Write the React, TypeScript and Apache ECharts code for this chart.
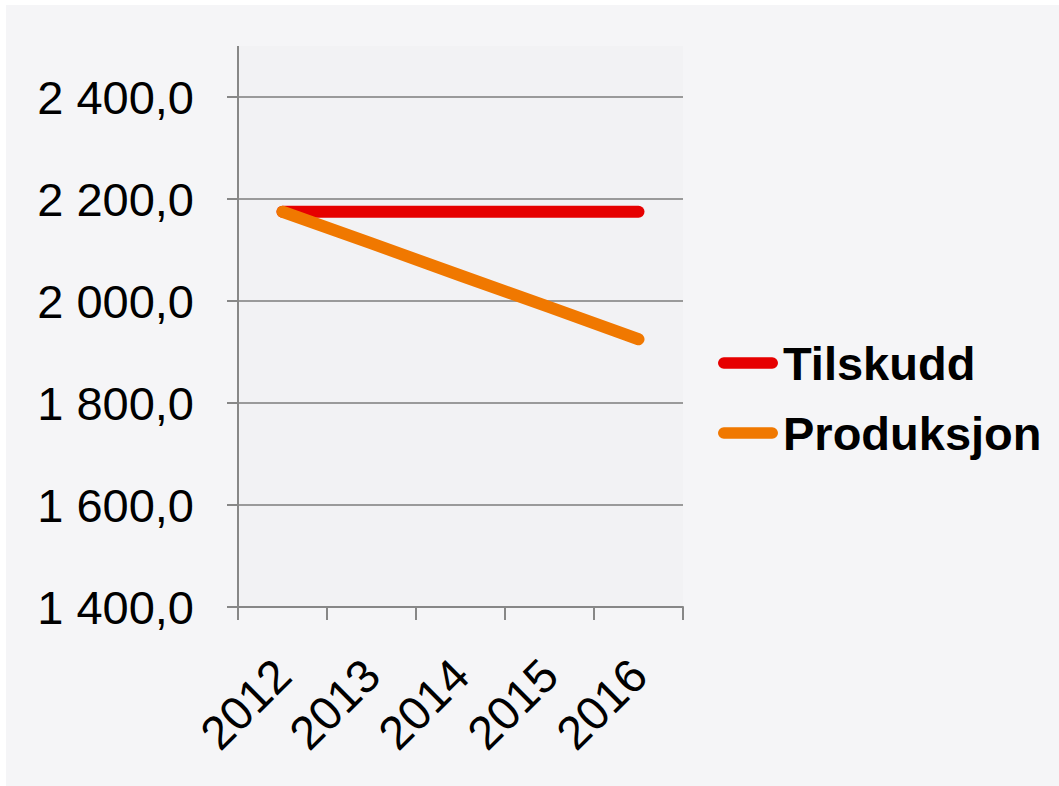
import React, { useEffect, useRef } from "react";
import * as echarts from "echarts";

const categories = ["2012", "2013", "2014", "2015", "2016"];
const tilskudd = [2175, 2175, 2175, 2175, 2175];
const produksjon = [2175, 2113, 2050, 1988, 1925];
const seriesNames = ["Tilskudd", "Produksjon"];
const yMin = 1400;
const yMax = 2400;
const yStep = 200;

const FONT = "'Liberation Sans', Arial, Helvetica, sans-serif";

function fmt(v: number): string {
  const fixed = v.toFixed(1);
  const [intPart, dec] = fixed.split(".");
  const withSpace = intPart.replace(/\B(?=(\d{3})+(?!\d))/g, " ");
  return withSpace + "," + dec;
}

export default function App() {
  const ref = useRef<HTMLDivElement>(null);
  useEffect(() => {
    document.body.style.margin = "0";
    if (!ref.current) return;
    const chart = echarts.init(ref.current, undefined, { renderer: "svg" });
    const gl = 232, gt = 92, gr = 376, gb = 179;
    const W = 1053, H = 781;
    const capsule = "path://M6,0 H56 A6,6 0 0 1 56,12 H6 A6,6 0 0 1 6,0 Z";
    chart.setOption({
      animation: false,
      backgroundColor: "#f5f5f7",
      textStyle: { fontFamily: FONT },
      graphic: [
        {
          type: "rect",
          z: -10,
          silent: true,
          shape: { x: gl, y: 41, width: W - gr - gl, height: H - gb - 41 },
          style: { fill: "#f2f2f4" },
        },
        {
          type: "line",
          z: 10,
          silent: true,
          shape: { x1: gl, y1: 41, x2: gl, y2: gt },
          style: { stroke: "#878787", lineWidth: 2 },
        },
      ],
      grid: { left: gl, top: gt, right: gr, bottom: gb, containLabel: false },
      legend: {
        orient: "vertical",
        left: 707,
        top: 327,
        itemGap: 18,
        itemWidth: 60,
        itemHeight: 12,
        data: [
          { name: seriesNames[0], icon: capsule },
          { name: seriesNames[1], icon: capsule },
        ],
        textStyle: {
          fontSize: 47,
          fontWeight: "bold",
          color: "#000",
          fontFamily: FONT,
          lineHeight: 52,
        },
      },
      xAxis: {
        type: "category",
        data: categories,
        boundaryGap: true,
        axisLine: { lineStyle: { color: "#878787", width: 2 } },
        axisTick: { show: true, length: 13, alignWithLabel: false, lineStyle: { color: "#878787", width: 2 } },
        axisLabel: {
          rotate: 45,
          fontSize: 47,
          color: "#000",
          margin: 60,
          fontFamily: FONT,
          interval: 0,
        },
        splitLine: { show: false },
      },
      yAxis: {
        type: "value",
        min: yMin,
        max: yMax,
        interval: yStep,
        axisLine: { show: true, lineStyle: { color: "#878787", width: 2 } },
        axisTick: { show: true, length: 11, lineStyle: { color: "#878787", width: 2 } },
        axisLabel: {
          fontSize: 47,
          color: "#000",
          margin: 44,
          fontFamily: FONT,
          formatter: (v: number) => fmt(v),
        },
        splitLine: { show: true, lineStyle: { color: "#9a9a9a", width: 2 } },
      },
      series: [
        {
          name: seriesNames[0],
          type: "line",
          data: tilskudd,
          symbol: "none",
          color: "#e60000",
          lineStyle: { width: 12, color: "#e60000", cap: "round", join: "round" },
        },
        {
          name: seriesNames[1],
          type: "line",
          data: produksjon,
          symbol: "none",
          color: "#f07800",
          lineStyle: { width: 12, color: "#f07800", cap: "round", join: "round" },
        },
      ],
    });
    return () => chart.dispose();
  }, []);
  return (
    <div style={{ position: "relative", width: 1059, height: 786, background: "#ffffff" }}>
      <div ref={ref} style={{ position: "absolute", left: 6, top: 5, width: 1053, height: 781 }} />
    </div>
  );
}
